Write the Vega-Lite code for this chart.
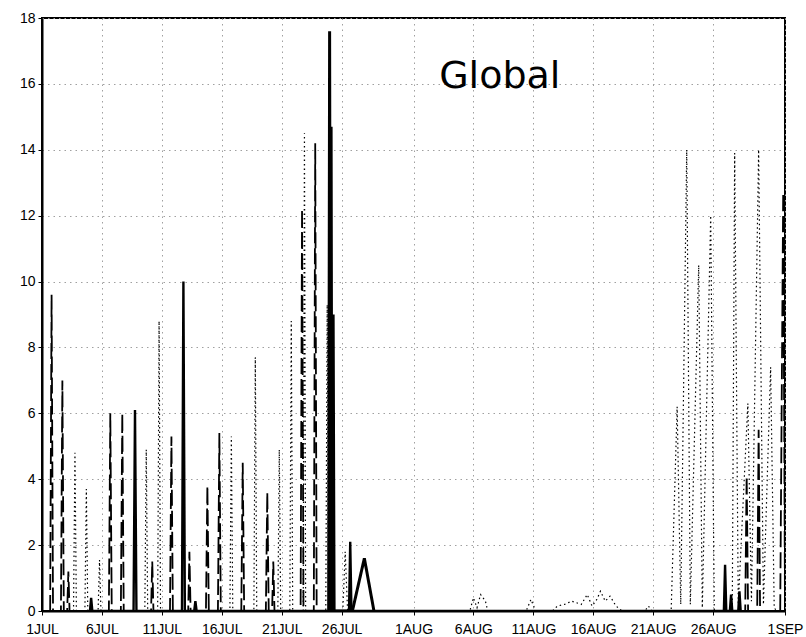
{
  "$schema": "https://vega.github.io/schema/vega-lite/v6.json",
  "width": 743,
  "height": 593,
  "autosize": {"type": "none"},
  "padding": {"left": 42, "top": 18, "right": 21, "bottom": 26},
  "background": "white",
  "config": {
    "view": {"stroke": "black", "strokeWidth": 2},
    "axis": {
      "domainColor": "black", "domainWidth": 2,
      "tickColor": "black", "tickSize": 4,
      "labelFont": "Liberation Sans", "labelFontSize": 14, "labelColor": "black",
      "gridColor": "#a0a0a0", "gridDash": [1.5, 4], "gridWidth": 1,
      "title": null
    }
  },
  "datasets": {
    "spikes": [
      {"d": 0.68, "v": 0, "s": "dashed"}, {"d": 0.8, "v": 9.6, "s": "dashed"}, {"d": 0.92, "v": 0, "s": "dashed"},
      {"d": 1.58, "v": 0, "s": "dashed"}, {"d": 1.7, "v": 7.0, "s": "dashed"}, {"d": 1.82, "v": 0, "s": "dashed"},
      {"d": 2.1, "v": 0, "s": "dashed"}, {"d": 2.2, "v": 1.2, "s": "dashed"}, {"d": 2.3, "v": 0, "s": "dashed"},
      {"d": 5.58, "v": 0, "s": "dashed"}, {"d": 5.7, "v": 6.0, "s": "dashed"}, {"d": 5.82, "v": 0, "s": "dashed"},
      {"d": 6.58, "v": 0, "s": "dashed"}, {"d": 6.7, "v": 6.0, "s": "dashed"}, {"d": 6.82, "v": 0, "s": "dashed"},
      {"d": 9.1, "v": 0, "s": "dashed"}, {"d": 9.2, "v": 1.5, "s": "dashed"}, {"d": 9.3, "v": 0, "s": "dashed"},
      {"d": 10.68, "v": 0, "s": "dashed"}, {"d": 10.8, "v": 5.3, "s": "dashed"}, {"d": 10.92, "v": 0, "s": "dashed"},
      {"d": 12.2, "v": 0, "s": "dashed"}, {"d": 12.3, "v": 1.8, "s": "dashed"}, {"d": 12.4, "v": 0, "s": "dashed"},
      {"d": 13.68, "v": 0, "s": "dashed"}, {"d": 13.8, "v": 3.8, "s": "dashed"}, {"d": 13.92, "v": 0, "s": "dashed"},
      {"d": 14.68, "v": 0, "s": "dashed"}, {"d": 14.8, "v": 5.4, "s": "dashed"}, {"d": 14.92, "v": 0, "s": "dashed"},
      {"d": 16.63, "v": 0, "s": "dashed"}, {"d": 16.75, "v": 4.5, "s": "dashed"}, {"d": 16.87, "v": 0, "s": "dashed"},
      {"d": 18.68, "v": 0, "s": "dashed"}, {"d": 18.8, "v": 3.6, "s": "dashed"}, {"d": 18.92, "v": 0, "s": "dashed"},
      {"d": 19.2, "v": 0, "s": "dashed"}, {"d": 19.3, "v": 1.5, "s": "dashed"}, {"d": 19.4, "v": 0, "s": "dashed"},
      {"d": 21.58, "v": 0, "s": "dashed"}, {"d": 21.7, "v": 12.2, "s": "dashed"}, {"d": 21.82, "v": 0, "s": "dashed"},
      {"d": 22.68, "v": 0, "s": "dashed"}, {"d": 22.8, "v": 14.2, "s": "dashed"}, {"d": 22.92, "v": 0, "s": "dashed"},
      {"d": 58.68, "v": 0, "s": "dashed"}, {"d": 58.8, "v": 4.1, "s": "dashed"}, {"d": 58.92, "v": 0, "s": "dashed"},
      {"d": 59.68, "v": 0, "s": "dashed"}, {"d": 59.8, "v": 5.5, "s": "dashed"}, {"d": 59.92, "v": 0, "s": "dashed"},
      {"d": 61.6, "v": 0, "s": "dashed"}, {"d": 61.85, "v": 12.7, "s": "dashed"}, {"d": 62.0, "v": 0, "s": "dashed"},

      {"d": 2.63, "v": 0, "s": "dotted"}, {"d": 2.75, "v": 4.8, "s": "dotted"}, {"d": 2.87, "v": 0, "s": "dotted"},
      {"d": 3.58, "v": 0, "s": "dotted"}, {"d": 3.7, "v": 3.7, "s": "dotted"}, {"d": 3.82, "v": 0, "s": "dotted"},
      {"d": 4.68, "v": 0, "s": "dotted"}, {"d": 4.8, "v": 1.55, "s": "dotted"}, {"d": 4.92, "v": 0, "s": "dotted"},
      {"d": 8.58, "v": 0, "s": "dotted"}, {"d": 8.7, "v": 4.9, "s": "dotted"}, {"d": 8.82, "v": 0, "s": "dotted"},
      {"d": 9.65, "v": 0, "s": "dotted"}, {"d": 9.77, "v": 8.8, "s": "dotted"}, {"d": 9.89, "v": 0, "s": "dotted"},
      {"d": 15.68, "v": 0, "s": "dotted"}, {"d": 15.8, "v": 5.3, "s": "dotted"}, {"d": 15.92, "v": 0, "s": "dotted"},
      {"d": 17.68, "v": 0, "s": "dotted"}, {"d": 17.8, "v": 7.7, "s": "dotted"}, {"d": 17.92, "v": 0, "s": "dotted"},
      {"d": 19.68, "v": 0, "s": "dotted"}, {"d": 19.8, "v": 4.9, "s": "dotted"}, {"d": 19.92, "v": 0, "s": "dotted"},
      {"d": 20.68, "v": 0, "s": "dotted"}, {"d": 20.8, "v": 8.8, "s": "dotted"}, {"d": 20.92, "v": 0, "s": "dotted"},
      {"d": 21.8, "v": 0, "s": "dotted"}, {"d": 21.9, "v": 14.5, "s": "dotted"}, {"d": 22.0, "v": 0, "s": "dotted"},
      {"d": 23.68, "v": 0, "s": "dotted"}, {"d": 23.8, "v": 9.3, "s": "dotted"}, {"d": 23.92, "v": 0, "s": "dotted"},
      {"d": 25.1, "v": 0, "s": "dotted"}, {"d": 25.3, "v": 1.8, "s": "dotted"}, {"d": 25.5, "v": 0, "s": "dotted"},
      {"d": 35.7, "v": 0, "s": "dotted"}, {"d": 36.0, "v": 0.4, "s": "dotted"}, {"d": 36.3, "v": 0.1, "s": "dotted"},
      {"d": 36.6, "v": 0.5, "s": "dotted"}, {"d": 37.0, "v": 0.3, "s": "dotted"}, {"d": 37.2, "v": 0, "s": "dotted"},
      {"d": 40.4, "v": 0, "s": "dotted"}, {"d": 40.8, "v": 0.35, "s": "dotted"}, {"d": 41.2, "v": 0, "s": "dotted"},
      {"d": 42.6, "v": 0, "s": "dotted"}, {"d": 43.0, "v": 0.15, "s": "dotted"}, {"d": 43.6, "v": 0.2, "s": "dotted"},
      {"d": 44.2, "v": 0.3, "s": "dotted"}, {"d": 45.0, "v": 0.2, "s": "dotted"}, {"d": 45.5, "v": 0.5, "s": "dotted"},
      {"d": 45.9, "v": 0.15, "s": "dotted"}, {"d": 46.3, "v": 0.35, "s": "dotted"}, {"d": 46.6, "v": 0.6, "s": "dotted"},
      {"d": 47.0, "v": 0.3, "s": "dotted"}, {"d": 47.4, "v": 0.45, "s": "dotted"}, {"d": 47.9, "v": 0.15, "s": "dotted"},
      {"d": 48.4, "v": 0, "s": "dotted"}, {"d": 50.3, "v": 0, "s": "dotted"}, {"d": 50.6, "v": 0.15, "s": "dotted"},
      {"d": 50.9, "v": 0, "s": "dotted"},
      {"d": 52.5, "v": 0, "s": "dotted"}, {"d": 53.0, "v": 6.2, "s": "dotted"}, {"d": 53.3, "v": 0.2, "s": "dotted"},
      {"d": 53.8, "v": 14.0, "s": "dotted"}, {"d": 54.1, "v": 0.2, "s": "dotted"},
      {"d": 54.8, "v": 10.5, "s": "dotted"}, {"d": 55.1, "v": 0.1, "s": "dotted"},
      {"d": 55.8, "v": 12.0, "s": "dotted"}, {"d": 56.1, "v": 0, "s": "dotted"},
      {"d": 57.6, "v": 0, "s": "dotted"}, {"d": 57.8, "v": 13.9, "s": "dotted"}, {"d": 58.1, "v": 0.2, "s": "dotted"},
      {"d": 58.9, "v": 6.3, "s": "dotted"}, {"d": 59.2, "v": 0.3, "s": "dotted"},
      {"d": 59.8, "v": 14.0, "s": "dotted"}, {"d": 60.2, "v": 0.2, "s": "dotted"},
      {"d": 60.8, "v": 7.4, "s": "dotted"}, {"d": 61.1, "v": 0.1, "s": "dotted"}, {"d": 61.3, "v": 0, "s": "dotted"},

      {"d": 4.0, "v": 0, "s": "solid"}, {"d": 4.1, "v": 0.4, "s": "solid"}, {"d": 4.2, "v": 0, "s": "solid"},
      {"d": 7.64, "v": 0, "s": "solid"}, {"d": 7.76, "v": 6.1, "s": "solid"}, {"d": 7.88, "v": 0, "s": "solid"},
      {"d": 11.68, "v": 0, "s": "solid"}, {"d": 11.8, "v": 10.0, "s": "solid"}, {"d": 11.92, "v": 0, "s": "solid"},
      {"d": 12.7, "v": 0, "s": "solid"}, {"d": 12.8, "v": 0.3, "s": "solid"}, {"d": 12.9, "v": 0, "s": "solid"},
      {"d": 24.08, "v": 0, "s": "solid"}, {"d": 24.15, "v": 14.7, "s": "solid"}, {"d": 24.22, "v": 0, "s": "solid"},
      {"d": 24.26, "v": 0, "s": "solid"}, {"d": 24.32, "v": 9.0, "s": "solid"}, {"d": 24.4, "v": 0, "s": "solid"},
      {"d": 25.62, "v": 0, "s": "solid"}, {"d": 25.72, "v": 2.1, "s": "solid"}, {"d": 25.82, "v": 0, "s": "solid"},
      {"d": 56.9, "v": 0, "s": "solid"}, {"d": 57.0, "v": 1.4, "s": "solid"}, {"d": 57.1, "v": 0, "s": "solid"},
      {"d": 57.4, "v": 0, "s": "solid"}, {"d": 57.5, "v": 0.5, "s": "solid"}, {"d": 57.6, "v": 0, "s": "solid"},
      {"d": 58.1, "v": 0, "s": "solid"}, {"d": 58.2, "v": 0.6, "s": "solid"}, {"d": 58.3, "v": 0, "s": "solid"},

      {"d": 23.92, "v": 0, "s": "thick"}, {"d": 24.0, "v": 17.6, "s": "thick"}, {"d": 24.08, "v": 0, "s": "thick"},
      {"d": 25.9, "v": 0, "s": "thick"}, {"d": 26.9, "v": 1.6, "s": "thick"}, {"d": 27.7, "v": 0, "s": "thick"}
    ],
    "title": [{"label": "Global"}]
  },
  "layer": [
    {
      "data": {"name": "spikes"},
      "mark": {"type": "line", "color": "black", "clip": true, "strokeJoin": "miter"},
      "encoding": {
        "x": {
          "field": "d", "type": "quantitative",
          "scale": {"domain": [0, 62], "nice": false, "zero": false},
          "axis": {
            "values": [0, 5, 10, 15, 20, 25, 31, 36, 41, 46, 51, 56, 62],
            "labelExpr": "datum.value==0?'1JUL':datum.value==5?'6JUL':datum.value==10?'11JUL':datum.value==15?'16JUL':datum.value==20?'21JUL':datum.value==25?'26JUL':datum.value==31?'1AUG':datum.value==36?'6AUG':datum.value==41?'11AUG':datum.value==46?'16AUG':datum.value==51?'21AUG':datum.value==56?'26AUG':'1SEP'",
            "labelPadding": 7,
            "labelOverlap": false,
            "labelFlush": false
          }
        },
        "y": {
          "field": "v", "type": "quantitative",
          "scale": {"domain": [0, 18], "nice": false},
          "axis": {"values": [0, 2, 4, 6, 8, 10, 12, 14, 16, 18], "labelPadding": 3}
        },
        "detail": {"field": "s"},
        "strokeDash": {
          "field": "s", "type": "nominal", "legend": null,
          "scale": {"domain": ["thick", "solid", "dashed", "dotted"], "range": [[1, 0], [1, 0], [16, 5], [1.5, 3]]}
        },
        "strokeWidth": {
          "field": "s", "type": "nominal", "legend": null,
          "scale": {"domain": ["thick", "solid", "dashed", "dotted"], "range": [3, 1.2, 1.1, 1.2]}
        }
      }
    },
    {
      "data": {"name": "title"},
      "mark": {"type": "text", "font": "DejaVu Sans", "fontSize": 38, "color": "black", "align": "center", "baseline": "middle"},
      "encoding": {
        "text": {"field": "label"},
        "x": {"datum": 38.2, "type": "quantitative"},
        "y": {"datum": 16.2, "type": "quantitative"}
      }
    }
  ]
}
